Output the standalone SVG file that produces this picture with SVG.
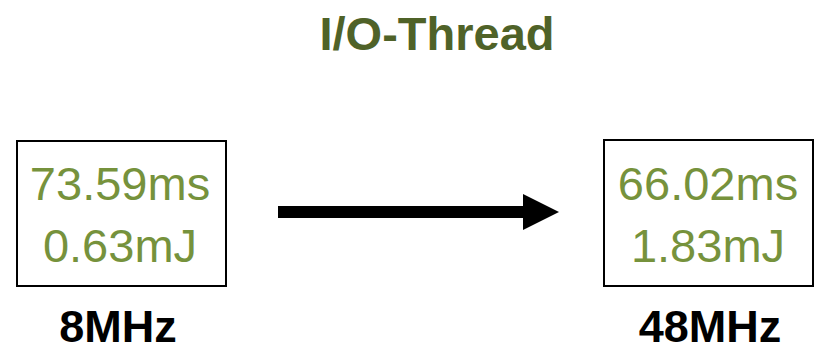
<svg xmlns="http://www.w3.org/2000/svg" width="825" height="348" viewBox="0 0 825 348">
<style>
.box{fill:#fff;stroke:#000;stroke-width:2}
.val{font-family:"Liberation Sans",Arial,sans-serif;font-size:47px;fill:#76923c;text-anchor:middle}
.lbl{font-family:"Liberation Sans",Arial,sans-serif;font-size:45px;font-weight:bold;fill:#000;text-anchor:middle}
.title{font-family:"Liberation Sans",Arial,sans-serif;font-size:47px;font-weight:bold;fill:#4f6228;text-anchor:middle}
</style>
<rect width="825" height="348" fill="#fff"/>
<text class="title" x="437" y="50">I/O-Thread</text>
<g id="node-8mhz">
<rect class="box" x="17" y="141" width="209" height="145"/>
<text class="val" x="120" y="200">73.59ms</text>
<text class="val" x="120" y="262">0.63mJ</text>
<text class="lbl" x="118" y="342">8MHz</text>
</g>
<g id="node-48mhz">
<rect class="box" x="604" y="140" width="209" height="146"/>
<text class="val" x="708" y="200">66.02ms</text>
<text class="val" x="708" y="262">1.83mJ</text>
<text class="lbl" x="710" y="342">48MHz</text>
</g>
<g id="connectors">
<polygon points="278,206 523,206 523,194 559,212 523,230 523,218 278,218" fill="#000"/>
</g>
</svg>
